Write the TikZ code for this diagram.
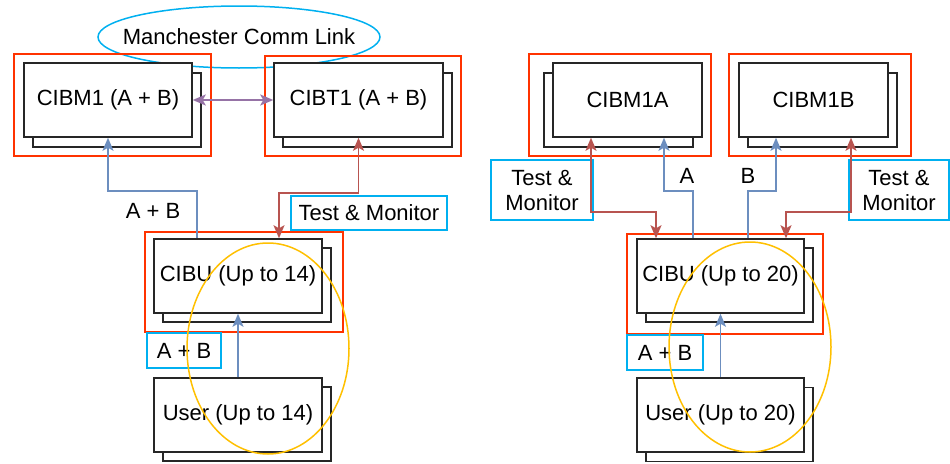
\documentclass[tikz,border=0pt]{standalone}
\usepackage{fontspec}
\setmainfont{Liberation Sans}
\usetikzlibrary{arrows.meta}
\definecolor{frameRed}{RGB}{255,51,0}
\definecolor{boxBlue}{RGB}{0,176,240}
\definecolor{ringGold}{RGB}{255,192,0}
\definecolor{arrBlue}{HTML}{6C8EBF}
\definecolor{arrRed}{HTML}{B85450}
\definecolor{arrPurple}{HTML}{9673A6}
\begin{document}
\begin{tikzpicture}[x=1pt,y=-1pt, font=\fontsize{22}{26}\selectfont,
  unit/.style={draw=black!85, line width=1.5pt, fill=white, inner sep=0pt, minimum height=74pt},
  redframe/.style={draw=frameRed, line width=2pt},
  tag/.style={draw=boxBlue, line width=2pt, inner sep=0pt, align=center},
  ring/.style={draw=ringGold, line width=1.5pt},
  link/.style={line width=1.6pt, arrows={-Stealth[length=13pt,width=11pt,inset=3pt]}},
  dlink/.style={line width=1.6pt, arrows={Stealth[length=13pt,width=11pt,inset=3pt]-Stealth[length=13pt,width=11pt,inset=3pt]}},
  plain/.style={inner sep=0pt}]
\useasboundingbox (0,0) rectangle (950,463);

% ---------- left ----------
\node[plain] (mcl) at (239,37) {Manchester Comm Link};
\draw[draw=boxBlue, line width=1.5pt] (mcl.center) ellipse [x radius=141, y radius=31];

\node[unit, minimum width=168pt] (cibm1back) at (117,110) {};
\node[unit, minimum width=168pt] (cibm1) at (108,100) {CIBM1 (A + B)};
\draw[redframe] (14,54) rectangle (211,156);

\node[unit, minimum width=169pt] (cibt1back) at (367.5,110) {};
\node[unit, minimum width=169pt] (cibt1) at (358.5,100) {CIBT1 (A + B)};
\draw[redframe] (265,56) rectangle (461,156);

\node[unit, minimum width=168pt] (cibuLback) at (247,285) {};
\node[unit, minimum width=168pt] (cibuL) at (238,276) {CIBU (Up to 14)};
\draw[redframe] (145,232) rectangle (343,332);

\node[unit, minimum width=168pt] (userLback) at (247,424) {};
\node[unit, minimum width=168pt] (userL) at (238,415) {User (Up to 14)};

\node[plain] (labAB) at (153,211) {A + B};
\node[tag, minimum width=156pt, minimum height=34pt] (tmL) at (369,213) {Test \& Monitor};
\node[tag, minimum width=74pt, minimum height=35pt] (abL) at (184,350.5) {A + B};

\draw[link, arrBlue] ([xshift=-41pt]cibuL.north) -- ++(0,-47) -| (cibm1.south);
\draw[dlink, arrRed] (cibt1.south) -- ++(0,55) -| ([xshift=41pt]cibuL.north);
\draw[dlink, arrPurple] (cibm1.east) -- (cibt1.west);
\draw[link, arrBlue] (userL.north) -- (cibuL.south);

% ---------- right ----------
\node[unit, minimum width=149pt] (cibm1aback) at (618.5,110) {};
\node[unit, minimum width=149pt] (cibm1a) at (627.5,100) {CIBM1A};
\draw[redframe] (529,54) rectangle (711,156);

\node[unit, minimum width=149pt] (cibm1bback) at (822.5,110) {};
\node[unit, minimum width=149pt] (cibm1b) at (813.5,100) {CIBM1B};
\draw[redframe] (729,54) rectangle (911,156);

\node[unit, minimum width=167pt] (cibuRback) at (729.5,285) {};
\node[unit, minimum width=167pt] (cibuR) at (720.5,276) {CIBU (Up to 20)};
\draw[redframe] (627,234) rectangle (823,334);

\node[unit, minimum width=167pt] (userRback) at (729.5,424.5) {};
\node[unit, minimum width=167pt] (userR) at (720.5,415) {User (Up to 20)};

\node[tag, minimum width=102pt, minimum height=60pt] (tmRa) at (542,190) {Test \&\\[-1pt]Monitor};
\node[tag, minimum width=100pt, minimum height=60pt] (tmRb) at (899,190) {Test \&\\[-1pt]Monitor};
\node[tag, minimum width=76pt, minimum height=35pt] (abR) at (665,352.5) {A + B};
\node[plain] (labA) at (687,176) {A};
\node[plain] (labB) at (748,176) {B};

\draw[dlink, arrRed] ([xshift=-36.5pt]cibm1a.south) -- ++(0,74) -| ([xshift=-64.5pt]cibuR.north);
\draw[link, arrBlue] ([xshift=-27.5pt]cibuR.north) -- ++(0,-47) -| ([xshift=36.5pt]cibm1a.south);
\draw[link, arrBlue] ([xshift=27.5pt]cibuR.north) -- ++(0,-47) -| ([xshift=-37.5pt]cibm1b.south);
\draw[dlink, arrRed] ([xshift=37.5pt]cibm1b.south) -- ++(0,74) -| ([xshift=65.5pt]cibuR.north);
\draw[link, arrBlue] (userR.north) -- (cibuR.south);

% ---------- highlight rings ----------
\draw[ring] (268,348.5) ellipse [x radius=81, y radius=105.5];
\draw[ring] (750,347) ellipse [x radius=81, y radius=105];
\end{tikzpicture}
\end{document}
